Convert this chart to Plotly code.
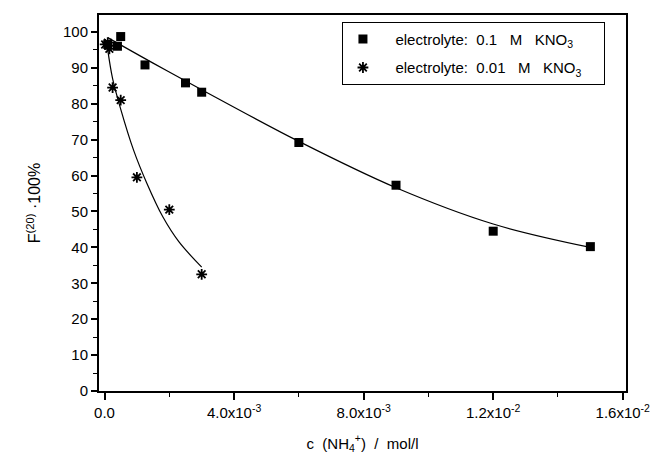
import plotly.graph_objects as go

# Measured points, 0.1 M KNO3 electrolyte
c_01 = [0.0001, 0.0004, 0.0005, 0.00125, 0.0025, 0.003, 0.006, 0.009, 0.012, 0.015]
f_01 = [96.5, 96.0, 98.7, 90.8, 85.8, 83.2, 69.2, 57.3, 44.5, 40.2]

# Measured points, 0.01 M KNO3 electrolyte
c_001 = [0.00002, 0.0001, 0.00015, 0.00025, 0.0005, 0.001, 0.002, 0.003]
f_001 = [96.5, 97.0, 95.3, 84.5, 81.0, 59.5, 50.5, 32.5]

# Fitted curves
fit_c_01 = [0.0001, 0.0015, 0.003, 0.006, 0.009, 0.012, 0.015]
fit_f_01 = [98.4, 91.3, 83.9, 69.5, 56.6, 46.5, 40.0]

fit_c_001 = [0.0001, 0.00025, 0.0005, 0.0009, 0.0013, 0.0018, 0.0023, 0.003]
fit_f_001 = [95.0, 87.0, 78.5, 67.0, 58.0, 48.5, 41.5, 34.5]

x_tickvals = [0.0, 0.004, 0.008, 0.012, 0.016]
x_ticktext = ["0.0", "4.0x10<sup>-3</sup>", "8.0x10<sup>-3</sup>",
              "1.2x10<sup>-2</sup>", "1.6x10<sup>-2</sup>"]
y_tickvals = list(range(0, 101, 10))

FONT = "Liberation Sans, Arial, sans-serif"
SP = "&nbsp;"


def legend_label(conc):
    return (SP * 3 + "electrolyte:" + SP * 2 + conc + SP * 3 + "M" + SP * 3
            + "KNO<sub>3</sub>" + SP * 4)


fig = go.Figure()

fig.add_trace(go.Scatter(
    x=fit_c_01, y=fit_f_01, mode="lines", line=dict(color="black", width=1.2, shape="spline"),
    showlegend=False, hoverinfo="skip"))
fig.add_trace(go.Scatter(
    x=fit_c_001, y=fit_f_001, mode="lines", line=dict(color="black", width=1.2, shape="spline"),
    showlegend=False, hoverinfo="skip"))

fig.add_trace(go.Scatter(
    x=c_01, y=f_01, mode="markers", legendgroup="a",
    marker=dict(symbol="square", size=9, color="black"),
    name=legend_label("0.1")))
fig.add_trace(go.Scatter(
    x=c_001, y=f_001, mode="markers", legendgroup="b",
    marker=dict(symbol="asterisk", size=9, color="black", line=dict(color="black", width=1.8)),
    name=legend_label("0.01")))

fig.update_layout(
    width=662, height=462,
    margin=dict(l=99, r=36, t=15, b=68),
    paper_bgcolor="white", plot_bgcolor="white",
    font=dict(family=FONT, size=14, color="black"),
    legend=dict(
        x=0.461, y=0.982, xanchor="left", yanchor="top",
        bordercolor="black", borderwidth=1, bgcolor="white",
        font=dict(size=15, family=FONT, color="black"), itemwidth=30,
        traceorder="grouped", tracegroupgap=6,
    ),
)

fig.update_xaxes(
    range=[-0.00017, 0.0161],
    tickvals=x_tickvals, ticktext=x_ticktext,
    ticks="outside", ticklen=7, tickwidth=1.5, tickcolor="black",
    minor=dict(tickvals=[0.002, 0.006, 0.010, 0.014], ticks="outside", ticklen=4,
               tickcolor="black", tickwidth=1),
    showline=True, linecolor="black", linewidth=2, mirror=True,
    showgrid=False, zeroline=False,
    tickfont=dict(size=15, color="black"),
    title=dict(text="c" + SP * 2 + "(NH<sub>4</sub><sup>+</sup>)" + SP * 2 + "/" + SP * 2 + "mol/l",
               font=dict(size=15, color="black"), standoff=18),
)

fig.update_yaxes(
    range=[0, 104.7],
    tickvals=y_tickvals,
    ticks="outside", ticklen=6, tickwidth=1.5, tickcolor="black",
    minor=dict(tickvals=list(range(5, 101, 10)), ticks="outside", ticklen=4,
               tickcolor="black", tickwidth=1),
    showline=True, linecolor="black", linewidth=2, mirror=True,
    showgrid=False, zeroline=False,
    tickfont=dict(size=15, color="black"),
    title=dict(text="F<sup>(20)</sup>" + SP + "·100%", font=dict(size=16, color="black"),
               standoff=18),
)

fig.write_html("out.html")
